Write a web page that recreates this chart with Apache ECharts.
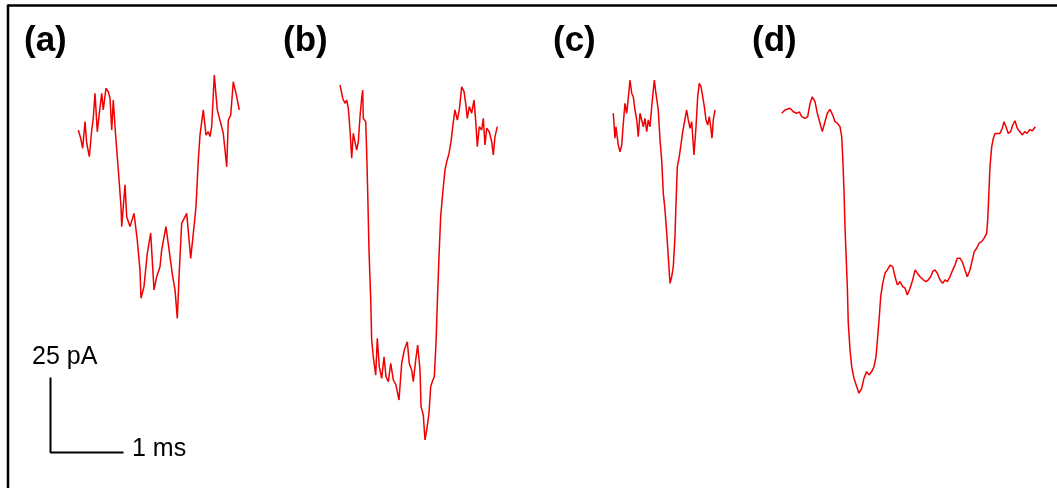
<!DOCTYPE html>
<html>
<head>
<meta charset="utf-8">
<script src="https://cdn.jsdelivr.net/npm/echarts@6/dist/echarts.min.js"></script>
<style>
  html, body { margin: 0; padding: 0; background: #ffffff; }
  #chart { width: 1057px; height: 488px; }
</style>
</head>
<body>
<div id="chart"></div>
<script>
// ---------- DATA (time in ms from trace start, current in pA relative to baseline) ----------
const panelLabels = ['(a)', '(b)', '(c)', '(d)'];

const traceA_t = [0, 0.033, 0.060, 0.092, 0.115, 0.151, 0.184, 0.205, 0.229, 0.260, 0.288, 0.321, 0.342, 0.379, 0.411, 0.434, 0.458, 0.479, 0.503, 0.534, 0.562, 0.585, 0.595, 0.640, 0.663, 0.708, 0.763, 0.808, 0.845, 0.859, 0.900, 0.945, 0.992, 1.037, 1.074, 1.119, 1.142, 1.201, 1.256, 1.293, 1.325, 1.356, 1.384, 1.416, 1.485, 1.540, 1.585, 1.612, 1.644, 1.667, 1.712, 1.749, 1.781, 1.804, 1.827, 1.863, 1.904, 1.986, 2.033, 2.055, 2.088, 2.123, 2.170, 2.205];
const traceA_i = [0, -2.8, -6.1, 2.8, -4.4, -8.9, 0, 3.9, 12.2, -0.6, 5.6, 12.2, 6.7, 13.9, 12.8, 10.6, 0, 10, 1.1, -8.9, -17.8, -25.6, -32.2, -18.3, -28.9, -32.2, -27.8, -36.7, -46.7, -56.1, -52.2, -41.1, -34.4, -53.3, -48.9, -45.6, -40, -32.2, -42.2, -48.9, -53.3, -62.8, -46.7, -31.1, -27.8, -42.8, -32.2, -25.6, -10, -1.7, 6.7, -1.7, -0.6, -2.2, 1.1, 18.3, 6.7, -1.1, -12.2, 3.3, 5, 16.1, 11.1, 6.7];

const traceB_t = [0, 0.037, 0.068, 0.092, 0.114, 0.137, 0.160, 0.182, 0.205, 0.229, 0.251, 0.274, 0.297, 0.311, 0.319, 0.352, 0.366, 0.379, 0.397, 0.421, 0.434, 0.456, 0.489, 0.511, 0.538, 0.571, 0.603, 0.630, 0.662, 0.695, 0.730, 0.767, 0.808, 0.845, 0.881, 0.922, 0.949, 0.982, 1.004, 1.037, 1.064, 1.096, 1.110, 1.141, 1.164, 1.188, 1.219, 1.242, 1.264, 1.292, 1.315, 1.333, 1.356, 1.379, 1.407, 1.438, 1.462, 1.493, 1.521, 1.553, 1.575, 1.607, 1.634, 1.667, 1.699, 1.722, 1.744, 1.771, 1.804, 1.836, 1.863, 1.881, 1.908, 1.941, 1.963, 1.986, 2.010, 2.045, 2.078, 2.100, 2.123, 2.155];
const traceB_i = [0, -4.4, -6.1, -5, -7.8, -15, -24.4, -16.1, -15.6, -21.7, -18.9, -10.6, -4.4, -1.7, -11.1, -12.2, -22.8, -35, -55, -71.7, -85, -90.6, -96.7, -84.4, -93.9, -97.8, -90.6, -97.2, -98.9, -92.8, -98.3, -100, -105, -92.8, -88.3, -85.6, -92.8, -95, -98.9, -91.7, -86.7, -95, -107.2, -110, -118.3, -115, -109.4, -100.6, -98.9, -97.2, -86.1, -72.8, -57.2, -43.9, -36.1, -28.3, -25.6, -22.8, -18.9, -12.2, -8.3, -11.7, -8.3, -0.6, -2.2, -6.1, -11.1, -7.2, -9.4, -5, -13.3, -20.6, -13.9, -15, -11.1, -20, -14.4, -15.6, -18.9, -23.3, -17.2, -13.9];

const traceC_t = [0, 0.023, 0.037, 0.068, 0.092, 0.115, 0.137, 0.160, 0.184, 0.205, 0.229, 0.252, 0.274, 0.297, 0.321, 0.342, 0.366, 0.389, 0.411, 0.434, 0.458, 0.479, 0.503, 0.526, 0.548, 0.562, 0.581, 0.616, 0.640, 0.663, 0.685, 0.708, 0.732, 0.753, 0.777, 0.800, 0.822, 0.845, 0.859, 0.877, 0.900, 0.923, 0.951, 0.973, 1.005, 1.027, 1.051, 1.074, 1.105, 1.133, 1.156, 1.178, 1.201, 1.225, 1.247, 1.270, 1.293, 1.315, 1.334, 1.352, 1.370, 1.393];
const traceC_i = [0, -8.3, -4.5, -10.6, -12.8, -10.6, -3.3, 3.3, 0, 5, 11.1, 6.7, 5.5, 1.1, -2.2, -7.8, 0, 0.5, -4.5, -1.7, -6.1, -2.2, -4.5, 2.2, 7.8, 11.1, 7.2, 1.1, -8.9, -15.6, -26.7, -32.2, -40, -47.8, -56.7, -54.5, -51.1, -41.1, -30, -17.8, -15, -11.1, -6.1, -5.6, 1.1, -2.2, -5, -2.8, -13.9, -4.5, 5.5, 10, 8.9, 5.5, 2.2, -2.2, -3.9, -1.1, -4.5, -8.3, -2.2, 1.1];

const traceD_t = [0, 0.045, 0.114, 0.159, 0.205, 0.241, 0.274, 0.319, 0.356, 0.388, 0.419, 0.456, 0.488, 0.525, 0.556, 0.593, 0.625, 0.662, 0.699, 0.730, 0.762, 0.799, 0.822, 0.836, 0.853, 0.867, 0.881, 0.899, 0.912, 0.936, 0.959, 0.990, 1.027, 1.059, 1.096, 1.127, 1.164, 1.196, 1.233, 1.264, 1.292, 1.315, 1.337, 1.356, 1.384, 1.415, 1.447, 1.484, 1.521, 1.553, 1.584, 1.621, 1.658, 1.690, 1.721, 1.758, 1.795, 1.827, 1.858, 1.895, 1.940, 1.977, 2.008, 2.041, 2.068, 2.100, 2.132, 2.168, 2.205, 2.237, 2.269, 2.305, 2.342, 2.374, 2.405, 2.442, 2.474, 2.511, 2.542, 2.579, 2.611, 2.638, 2.671, 2.703, 2.740, 2.771, 2.808, 2.822, 2.836, 2.853, 2.877, 2.899, 2.922, 2.953, 2.990, 3.022, 3.045, 3.073, 3.104, 3.137, 3.164, 3.196, 3.227, 3.260, 3.297, 3.329, 3.360, 3.397, 3.434, 3.474];
const traceD_i = [0, 1.1, 1.7, 0.5, 0, 0.5, -1.1, -1.7, -1.1, 3.3, 5.5, 3.9, 0, -3.3, -6.1, -2.8, 0, 1.3, -0.6, -2.8, -3.3, -4.5, -7.8, -14.5, -25.6, -37.8, -46.7, -57.8, -70, -78.9, -84.5, -88.3, -91.1, -93.3, -91.7, -88.3, -86.1, -87.2, -86.1, -84.5, -81.1, -74.5, -67.8, -61.1, -56.7, -53.3, -52.2, -50.6, -51.1, -54.5, -57.2, -56.1, -57.8, -58.3, -60.6, -58.3, -55.5, -52.2, -53.3, -54.5, -55.5, -56.1, -55.5, -54.5, -52.8, -52.2, -53.3, -55.5, -56.7, -55.5, -56.1, -54.5, -52.2, -50.6, -48.3, -48.3, -49.5, -52.2, -54.5, -52.2, -48.9, -46.1, -45, -43.3, -42.8, -41.7, -40, -35.6, -27.8, -17.8, -11.1, -8.3, -6.7, -6.7, -6.7, -5, -2.8, -4.5, -6.7, -6.1, -3.9, -2.5, -5, -6.1, -7.2, -6.1, -6.7, -5.5, -5.8, -4.5];

// scale bar values
const scaleBarTime = 1;     // ms
const scaleBarCurrent = 25; // pA
const scaleBarLabels = ['25 pA', '1 ms'];

// ---------- LAYOUT ----------
const W = 1057, H = 488;
const PX_PER_MS = 73, PX_PER_PA = 3;
const X_MAX = W / PX_PER_MS, Y_MAX = H / PX_PER_PA;
// placement of each trace's start in the (ms, pA) page frame
const placements = [
  [78.3 / PX_PER_MS, (H - 130) / PX_PER_PA],
  [340 / PX_PER_MS, (H - 85) / PX_PER_PA],
  [613.3 / PX_PER_MS, (H - 113.3) / PX_PER_PA],
  [781.7 / PX_PER_MS, (H - 113.3) / PX_PER_PA]
];
const scaleOrigin = [50.5 / PX_PER_MS, (H - 452.5) / PX_PER_PA];
const labelPos = [[24, 41], [283, 41], [553, 41], [752, 41]];

const traces = [[traceA_t, traceA_i], [traceB_t, traceB_i], [traceC_t, traceC_i], [traceD_t, traceD_i]];

const series = traces.map(function (tr, k) {
  return {
    type: 'line',
    showSymbol: false,
    symbol: 'none',
    animation: false,
    silent: true,
    lineStyle: { color: '#f00000', width: 1.5 },
    data: tr[0].map(function (t, j) { return [t + placements[k][0], tr[1][j] + placements[k][1]]; })
  };
});

series.push({
  type: 'line',
  showSymbol: false,
  symbol: 'none',
  animation: false,
  silent: true,
  lineStyle: { color: '#000000', width: 2 },
  data: [
    [scaleOrigin[0], scaleOrigin[1] + scaleBarCurrent],
    [scaleOrigin[0], scaleOrigin[1]],
    [scaleOrigin[0] + scaleBarTime, scaleOrigin[1]]
  ]
});

const graphics = [
  { type: 'line', shape: { x1: 8, y1: 5.5, x2: W, y2: 5.5 }, style: { stroke: '#000', lineWidth: 2.5 } },
  { type: 'line', shape: { x1: 8, y1: 4.5, x2: 8, y2: H }, style: { stroke: '#000', lineWidth: 2.5 } }
];
panelLabels.forEach(function (lab, k) {
  graphics.push({
    type: 'text', x: labelPos[k][0], y: labelPos[k][1],
    style: { text: lab, fill: '#000', font: 'bold 35px "Liberation Sans", Arial, sans-serif', textAlign: 'left', textVerticalAlign: 'middle' }
  });
});
graphics.push({
  type: 'text', x: 32, y: 357,
  style: { text: scaleBarLabels[0], fill: '#000', font: '25px "Liberation Sans", Arial, sans-serif', textAlign: 'left', textVerticalAlign: 'middle' }
});
graphics.push({
  type: 'text', x: 132, y: 449,
  style: { text: scaleBarLabels[1], fill: '#000', font: '25px "Liberation Sans", Arial, sans-serif', textAlign: 'left', textVerticalAlign: 'middle' }
});

const chart = echarts.init(document.getElementById('chart'), null, { renderer: 'canvas' });
chart.setOption({
  backgroundColor: '#ffffff',
  animation: false,
  grid: { left: 0, right: 0, top: 0, bottom: 0 },
  xAxis: { type: 'value', min: 0, max: X_MAX, show: false },
  yAxis: { type: 'value', min: 0, max: Y_MAX, show: false },
  series: series,
  graphic: graphics
});
</script>
</body>
</html>
